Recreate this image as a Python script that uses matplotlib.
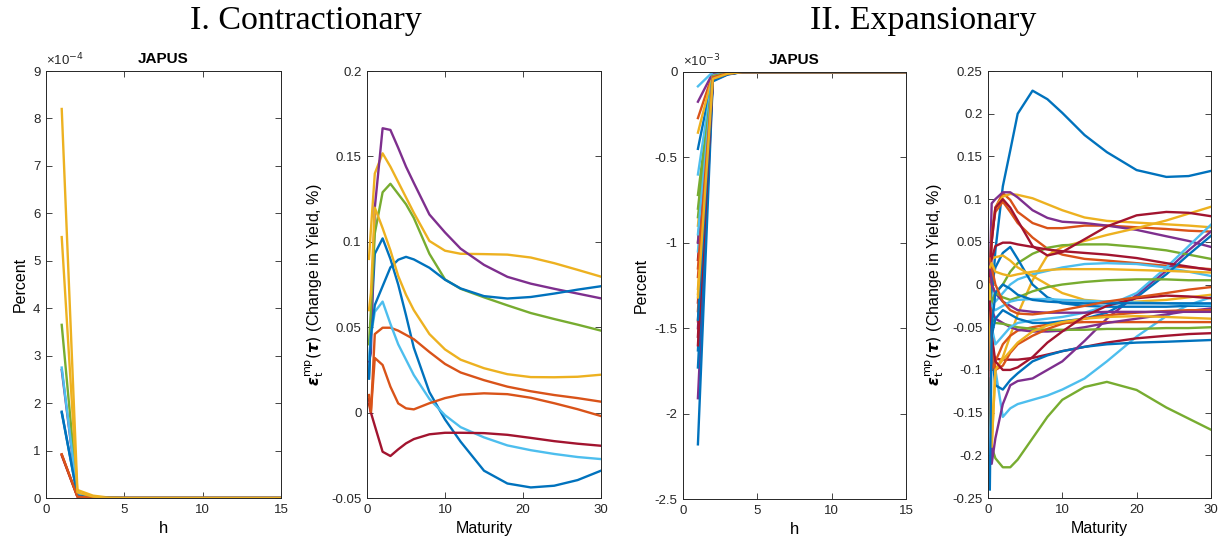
import numpy as np
import matplotlib
matplotlib.use('Agg')
import matplotlib.pyplot as plt
from matplotlib.ticker import FuncFormatter, MultipleLocator
from cycler import cycler

# MATLAB default line colours
mat_colors = ['#0072BD', '#D95319', '#EDB120', '#7E2F8E', '#77AC30', '#4DBEEE', '#A2142F']
plt.rcParams['font.family'] = ['Liberation Sans', 'DejaVu Sans']
plt.rcParams['axes.prop_cycle'] = cycler(color=mat_colors)

#---------------------------------------------------------------------------------------------------
# DATA
#---------------------------------------------------------------------------------------------------
horizon = np.arange(1, 16)

# contractionary impulse responses (percent), first horizons; zero afterwards
con_h1 = np.array([1.82, 0.92, 8.2, 2.7, 3.65, 2.75, 0.90, 1.80, 0.92, 5.5]) * 1e-4
con_h2 = np.array([0.05, 0.03, 0.17, 0.06, 0.08, 0.07, 0.03, 0.05, 0.03, 0.12]) * 1e-4
con_h3 = np.array([0.01, 0.005, 0.05, 0.015, 0.02, 0.015, 0.005, 0.01, 0.005, 0.03]) * 1e-4
con_h4 = np.array([0.002, 0.001, 0.01, 0.003, 0.004, 0.003, 0.001, 0.002, 0.001, 0.006]) * 1e-4

# expansionary impulse responses (percent)
exp_h1 = np.array([-0.45, -0.27, -0.355, -0.174, -0.72, -0.084, -1.10, -1.63, -1.46, -1.27,
                   -1.91, -0.995, -0.60, -1.35, -2.18, -1.20, -0.90, -1.50, -0.85, -1.05,
                   -1.55, -1.73, -1.40, -1.30, -1.00, -0.80, -0.95, -1.60, -1.45, -1.15, -1.32]) * 1e-3
exp_h2 = np.array([-0.02, -0.01, -0.015, -0.005, -0.03, 0.0, -0.03, -0.045, -0.04, -0.035,
                   -0.05, -0.045, -0.02, -0.035, -0.055, -0.03, -0.025, -0.04, -0.025, -0.03,
                   -0.04, -0.045, -0.035, -0.035, -0.03, -0.025, -0.03, -0.04, -0.04, -0.03, -0.04]) * 1e-3
exp_h3 = np.array([-0.005, -0.003, -0.004, -0.002, -0.008, 0.0, -0.008, -0.012, -0.01, -0.009,
                   -0.013, -0.012, -0.005, -0.009, -0.015, -0.008, -0.006, -0.01, -0.006, -0.008,
                   -0.01, -0.012, -0.009, -0.009, -0.008, -0.006, -0.008, -0.01, -0.01, -0.008, -0.01]) * 1e-3

# shocks to the yield curve by maturity (years)
con_maturity = [0.25, 0.5, 1, 2, 3, 4, 5, 6, 8, 10, 12, 15, 18, 21, 24, 27, 30]
con_eps = [
    [0.020, 0.050, 0.093, 0.102, 0.090, 0.075, 0.057, 0.038, 0.012, -0.004, -0.017, -0.034, -0.0415, -0.0438, -0.0428, -0.0395, -0.034],
    [0.005, 0.000, 0.046, 0.0497, 0.0497, 0.048, 0.0455, 0.043, 0.0355, 0.0285, 0.0235, 0.019, 0.0152, 0.0125, 0.0103, 0.0085, 0.0064],
    [0.090, 0.107, 0.140, 0.1518, 0.144, 0.135, 0.126, 0.117, 0.1005, 0.0948, 0.093, 0.0928, 0.0925, 0.0908, 0.0875, 0.0836, 0.0796],
    [0.030, 0.035, 0.120, 0.1665, 0.1655, 0.155, 0.144, 0.1345, 0.116, 0.1055, 0.096, 0.0865, 0.0795, 0.0755, 0.0725, 0.0697, 0.0669],
    [0.040, 0.060, 0.105, 0.129, 0.134, 0.128, 0.122, 0.114, 0.093, 0.078, 0.0725, 0.0675, 0.0628, 0.0583, 0.0548, 0.0515, 0.048],
    [0.031, 0.045, 0.059, 0.065, 0.052, 0.040, 0.031, 0.022, 0.008, -0.0015, -0.0085, -0.0145, -0.0192, -0.022, -0.0242, -0.026, -0.0272],
    [0.008, 0.000, -0.0077, -0.0229, -0.0254, -0.0215, -0.018, -0.0155, -0.0127, -0.0118, -0.0118, -0.012, -0.013, -0.0148, -0.0167, -0.0182, -0.0194],
    [0.020, 0.045, 0.063, 0.074, 0.085, 0.0895, 0.0912, 0.0897, 0.0848, 0.0778, 0.0727, 0.0682, 0.0668, 0.0677, 0.0697, 0.072, 0.074],
    [0.0103, 0.0005, 0.032, 0.0279, 0.0152, 0.0054, 0.0025, 0.0019, 0.0055, 0.0085, 0.0105, 0.0113, 0.0108, 0.0087, 0.0055, 0.002, -0.002],
    [0.060, 0.070, 0.120, 0.108, 0.095, 0.080, 0.069, 0.060, 0.046, 0.037, 0.031, 0.026, 0.0225, 0.0208, 0.0207, 0.021, 0.0222],
]

exp_maturity = [0.25, 0.5, 1, 2, 3, 4, 6, 8, 10, 13, 16, 20, 24, 27, 30]
exp_eps = [
    [-0.05, -0.02, 0.04, 0.115, 0.157, 0.200, 0.227, 0.217, 0.201, 0.175, 0.155, 0.134, 0.126, 0.127, 0.133],
    [0.00, 0.05, 0.09, 0.107, 0.099, 0.085, 0.072, 0.066, 0.066, 0.069, 0.069, 0.067, 0.065, 0.063, 0.062],
    [0.02, 0.06, 0.09, 0.103, 0.106, 0.105, 0.101, 0.094, 0.087, 0.0785, 0.0745, 0.0725, 0.0705, 0.069, 0.067],
    [0.01, 0.095, 0.10, 0.108, 0.108, 0.102, 0.087, 0.078, 0.0735, 0.072, 0.069, 0.064, 0.0565, 0.051, 0.044],
    [-0.11, -0.19, -0.2035, -0.214, -0.214, -0.205, -0.180, -0.155, -0.135, -0.120, -0.114, -0.1235, -0.144, -0.157, -0.170],
    [-0.02, -0.06, -0.10, -0.155, -0.145, -0.140, -0.135, -0.130, -0.123, -0.110, -0.090, -0.061, -0.037, -0.024, -0.015],
    [-0.05, -0.08, -0.087, -0.088, -0.088, -0.088, -0.086, -0.082, -0.078, -0.073, -0.068, -0.063, -0.060, -0.058, -0.057],
    [-0.03, -0.08, -0.118, -0.123, -0.112, -0.104, -0.090, -0.083, -0.078, -0.073, -0.070, -0.068, -0.067, -0.066, -0.065],
    [0.01, 0.06, 0.085, 0.097, 0.085, 0.072, 0.055, 0.042, 0.035, 0.030, 0.028, 0.025, 0.022, 0.020, 0.018],
    [-0.14, -0.19, -0.10, -0.085, -0.060, -0.035, 0.005, 0.034, 0.044, 0.051, 0.058, 0.066, 0.075, 0.083, 0.091],
    [-0.06, -0.21, -0.18, -0.14, -0.118, -0.113, -0.110, -0.100, -0.090, -0.066, -0.040, -0.012, 0.016, 0.040, 0.062],
    [0.02, 0.00, -0.01, 0.00, 0.015, 0.025, 0.036, 0.043, 0.046, 0.047, 0.047, 0.044, 0.040, 0.035, 0.030],
    [0.00, -0.01, -0.02, -0.01, 0.00, 0.006, 0.012, 0.016, 0.020, 0.024, 0.025, 0.024, 0.020, 0.015, 0.010],
    [0.01, 0.05, 0.09, 0.10, 0.09, 0.075, 0.045, 0.034, 0.038, 0.053, 0.068, 0.081, 0.085, 0.084, 0.080],
    [-0.02, 0.00, 0.02, 0.037, 0.044, 0.030, 0.000, -0.015, -0.022, -0.025, -0.026, -0.026, -0.026, -0.025, -0.025],
    [0.00, -0.10, -0.09, -0.07, -0.06, -0.054, -0.050, -0.047, -0.045, -0.044, -0.044, -0.044, -0.044, -0.044, -0.044],
    [0.03, 0.03, 0.032, 0.034, 0.028, 0.020, 0.010, 0.000, -0.010, -0.018, -0.020, -0.020, -0.018, -0.015, -0.012],
    [-0.02, -0.03, -0.04, -0.045, -0.05, -0.053, -0.055, -0.055, -0.054, -0.050, -0.045, -0.040, -0.035, -0.031, -0.028],
    [-0.02, -0.04, -0.045, -0.046, -0.048, -0.050, -0.052, -0.053, -0.053, -0.053, -0.052, -0.052, -0.051, -0.051, -0.050],
    [-0.01, -0.05, -0.07, -0.06, -0.05, -0.045, -0.042, -0.040, -0.038, -0.033, -0.025, -0.010, 0.020, 0.045, 0.070],
    [0.01, 0.03, 0.045, 0.049, 0.049, 0.047, 0.044, 0.041, 0.039, 0.037, 0.035, 0.031, 0.025, 0.021, 0.017],
    [-0.03, -0.06, -0.04, -0.03, -0.035, -0.040, -0.045, -0.045, -0.043, -0.040, -0.033, -0.015, 0.012, 0.035, 0.057],
    [-0.01, -0.06, -0.10, -0.095, -0.08, -0.070, -0.060, -0.052, -0.046, -0.040, -0.036, -0.033, -0.031, -0.030, -0.030],
    [0.00, -0.19, -0.10, -0.088, -0.078, -0.068, -0.055, -0.048, -0.044, -0.040, -0.038, -0.037, -0.038, -0.039, -0.040],
    [0.03, 0.00, -0.01, -0.02, -0.025, -0.030, -0.032, -0.033, -0.033, -0.033, -0.032, -0.032, -0.032, -0.032, -0.032],
    [-0.03, -0.02, -0.01, -0.015, -0.018, -0.015, -0.008, -0.003, 0.000, 0.003, 0.005, 0.006, 0.006, 0.005, 0.005],
    [-0.02, -0.025, -0.03, -0.025, -0.02, -0.018, -0.017, -0.017, -0.018, -0.019, -0.020, -0.021, -0.022, -0.023, -0.024],
    [-0.02, -0.06, -0.09, -0.10, -0.10, -0.097, -0.085, -0.068, -0.055, -0.037, -0.025, -0.016, -0.013, -0.014, -0.016],
    [-0.24, -0.05, -0.01, 0.00, -0.005, -0.012, -0.018, -0.020, -0.021, -0.022, -0.022, -0.022, -0.022, -0.022, -0.022],
    [0.03, 0.02, 0.00, -0.02, -0.03, -0.034, -0.035, -0.033, -0.030, -0.025, -0.020, -0.015, -0.010, -0.006, -0.003],
    [0.02, 0.025, 0.015, 0.012, 0.010, 0.012, 0.015, 0.017, 0.018, 0.018, 0.018, 0.017, 0.016, 0.015, 0.014],
]

#---------------------------------------------------------------------------------------------------
# HELPERS
#---------------------------------------------------------------------------------------------------
def irf_series(h1, h2, h3, h4=None):
    # responses beyond the listed horizons are zero
    out = np.zeros((len(h1), len(horizon)))
    out[:, 0] = h1
    out[:, 1] = h2
    out[:, 2] = h3
    if h4 is not None:
        out[:, 3] = h4
    return out

def style_axes(ax):
    ax.tick_params(direction='in', top=True, right=True, length=4, width=0.6,
                   color='#262626', labelcolor='#262626', labelsize=9.5, pad=4)
    for s in ax.spines.values():
        s.set_color('#262626')
        s.set_linewidth(0.7)

gfmt = FuncFormatter(lambda v, p: '%g' % round(v, 6))
eps_label = r'$\boldsymbol{\epsilon}_{\mathrm{t}}^{\mathrm{mp}}(\boldsymbol{\tau})$ (Change in Yield, %)'

#---------------------------------------------------------------------------------------------------
# PLOT
#---------------------------------------------------------------------------------------------------
fig = plt.figure(figsize=(12.25, 5.45), dpi=100)
ax1 = fig.add_axes([0.0376, 0.0862, 0.1918, 0.7835])
ax2 = fig.add_axes([0.2996, 0.0862, 0.1910, 0.7835])
ax3 = fig.add_axes([0.5576, 0.0844, 0.1820, 0.7835])
ax4 = fig.add_axes([0.8065, 0.0862, 0.1820, 0.7835])

# I. contractionary, impulse responses
for row in irf_series(con_h1, con_h2, con_h3, con_h4):
    ax1.plot(horizon, row, lw=1.7)
ax1.set_xlim(0, 15)
ax1.set_ylim(0, 9e-4)
ax1.xaxis.set_major_locator(MultipleLocator(5))
ax1.yaxis.set_major_locator(MultipleLocator(1e-4))
ax1.yaxis.set_major_formatter(FuncFormatter(lambda v, p: '%g' % round(v * 1e4, 6)))
ax1.text(0.0, 1.006, r'×10$^{-4}$', transform=ax1.transAxes, fontsize=9.5, color='#262626',
         ha='left', va='bottom')
ax1.set_title('JAPUS', fontsize=11, fontweight='bold', pad=6)
ax1.set_xlabel('h', fontsize=12)
ax1.set_ylabel('Percent', fontsize=11.5)

# I. contractionary, yield curve shocks
for row in con_eps:
    ax2.plot(con_maturity, row, lw=1.7)
ax2.set_xlim(0, 30)
ax2.set_ylim(-0.05, 0.2)
ax2.xaxis.set_major_locator(MultipleLocator(10))
ax2.yaxis.set_major_locator(MultipleLocator(0.05))
ax2.yaxis.set_major_formatter(gfmt)
ax2.set_xlabel('Maturity', fontsize=11.5)
ax2.set_ylabel(eps_label, fontsize=11.5)

# II. expansionary, impulse responses
for row in irf_series(exp_h1, exp_h2, exp_h3):
    ax3.plot(horizon, row, lw=1.7)
ax3.set_xlim(0, 15)
ax3.set_ylim(-2.5e-3, 0)
ax3.xaxis.set_major_locator(MultipleLocator(5))
ax3.yaxis.set_major_locator(MultipleLocator(0.5e-3))
ax3.yaxis.set_major_formatter(FuncFormatter(lambda v, p: '%g' % round(v * 1e3, 6)))
ax3.text(0.0, 1.006, r'×10$^{-3}$', transform=ax3.transAxes, fontsize=9.5, color='#262626',
         ha='left', va='bottom')
ax3.set_title('JAPUS', fontsize=11, fontweight='bold', pad=6)
ax3.set_xlabel('h', fontsize=12)
ax3.set_ylabel('Percent', fontsize=11.5)

# II. expansionary, yield curve shocks
for row in exp_eps:
    ax4.plot(exp_maturity, row, lw=1.7)
ax4.set_xlim(0, 30)
ax4.set_ylim(-0.25, 0.25)
ax4.xaxis.set_major_locator(MultipleLocator(10))
ax4.yaxis.set_major_locator(MultipleLocator(0.05))
ax4.yaxis.set_major_formatter(gfmt)
ax4.set_xlabel('Maturity', fontsize=11.5)
ax4.set_ylabel(eps_label, fontsize=11.5)

for ax in (ax1, ax2, ax3, ax4):
    style_axes(ax)

fig.text(0.250, 0.962, 'I. Contractionary', family='Liberation Serif', fontsize=24.5,
         ha='center', va='center')
fig.text(0.7535, 0.962, 'II. Expansionary', family='Liberation Serif', fontsize=24.5,
         ha='center', va='center')

plt.savefig('out.png', dpi=100)
